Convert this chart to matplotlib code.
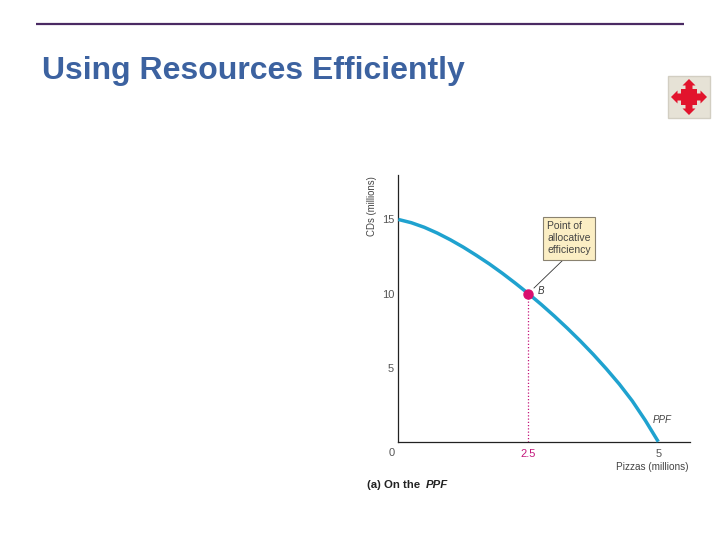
import matplotlib
matplotlib.use("Agg")
import matplotlib.pyplot as plt
from matplotlib.patches import Rectangle, Polygon

# Data
pizzas = [0, 0.25, 0.5, 0.75, 1, 1.25, 1.5, 1.75, 2, 2.25, 2.5, 2.75, 3, 3.25, 3.5, 3.75, 4, 4.25, 4.5, 4.75, 5]
cds = [15, 14.78, 14.47, 14.08, 13.63, 13.13, 12.58, 12.0, 11.37, 10.7, 10, 9.26, 8.48, 7.66, 6.8, 5.89, 4.92, 3.89, 2.75, 1.44, 0]
point_x = 2.5
point_y = 10
x_ticks = [2.5, 5]
x_tick_labels = ["2.5", "5"]
y_ticks = [5, 10, 15]
title = "Using Resources Efficiently"

W, H = 720, 540
plt.rcParams['font.family'] = ['Liberation Sans', 'DejaVu Sans']
fig = plt.figure(figsize=(W / 100, H / 100), dpi=100, facecolor="white")

# page overlay in pixel coordinates
page = fig.add_axes([0, 0, 1, 1])
page.set_xlim(0, W)
page.set_ylim(H, 0)
page.axis("off")
page.plot([36, 684], [24, 24], color="#4a2a63", lw=1.6, solid_capstyle="butt")
page.text(42, 79, title, color="#3c62a0", fontsize=23.0, fontweight="bold", ha="left", va="baseline")
page.text(367, 488, "(a) On the", color="#222222", fontsize=8.2, fontweight="bold", ha="left", va="baseline")
page.text(426, 488, "PPF", color="#222222", fontsize=8.2, fontweight="bold", fontstyle="italic", ha="left", va="baseline")

# move icon
page.add_patch(Rectangle((668, 76), 42, 42, facecolor="#e6e2d6", edgecolor="#d2cec2", lw=1))
cx, cy = 689, 97
red = "#e2142d"
page.add_patch(Rectangle((cx - 8, cy - 8), 16, 16, facecolor=red, edgecolor="none"))
for dx, dy in [(1, 0), (-1, 0), (0, 1), (0, -1)]:
    px, py = -dy, dx
    pts = [
        (cx + dx * 6 + px * 3.5, cy + dy * 6 + py * 3.5),
        (cx + dx * 11.5 + px * 3.5, cy + dy * 11.5 + py * 3.5),
        (cx + dx * 11.5 + px * 6.5, cy + dy * 11.5 + py * 6.5),
        (cx + dx * 18, cy + dy * 18),
        (cx + dx * 11.5 - px * 6.5, cy + dy * 11.5 - py * 6.5),
        (cx + dx * 11.5 - px * 3.5, cy + dy * 11.5 - py * 3.5),
        (cx + dx * 6 - px * 3.5, cy + dy * 6 - py * 3.5),
    ]
    page.add_patch(Polygon(pts, closed=True, facecolor=red, edgecolor="none"))

# chart
left, right, top, bottom = 398.3, 690, 175, 441.7
ax = fig.add_axes([left / W, 1 - bottom / H, (right - left) / W, (bottom - top) / H])
ax.patch.set_alpha(0)
ax.set_xlim(0, 5.61)
ax.set_ylim(0, 18.0)
for s in ("top", "right"):
    ax.spines[s].set_visible(False)
for s in ("left", "bottom"):
    ax.spines[s].set_linewidth(0.9)
    ax.spines[s].set_color("#222222")

ax.plot(pizzas, cds, color="#1fa2cf", lw=2.5, solid_capstyle="butt", clip_on=False, zorder=3)
ax.plot([point_x, point_x], [0, point_y], color="#c4187c", lw=0.9, ls=(0, (1, 1.6)), zorder=2)
ax.plot([point_x], [point_y], "o", color="#d90f6e", ms=6.5, zorder=4)

ax.set_xticks(x_ticks)
ax.set_xticklabels(x_tick_labels, fontsize=8, color="#555555")
ax.get_xticklabels()[0].set_color("#c4187c")
ax.set_yticks(y_ticks)
ax.set_yticklabels([str(v) for v in y_ticks], fontsize=8, color="#555555")
ax.tick_params(axis="x", length=0, pad=5)
ax.tick_params(axis="y", length=0, pad=3)
page.text(392, 452.5, "0", fontsize=8, color="#555555", ha="center", va="center")

# callout
page.plot([563, 534], [260, 288], color="#333333", lw=0.6, zorder=5)
page.add_patch(Rectangle((543, 217), 52, 43, facecolor="#fbeec4", edgecolor="#8a8270", lw=0.8, zorder=5))
page.text(547, 238, "Point of\nallocative\nefficiency", fontsize=7.5, color="#444444",
          ha="left", va="center", linespacing=1.25, zorder=6)
ax.text(2.74, 10.2, "B", fontsize=7, fontstyle="italic", color="#333333", ha="center", va="center")
ax.text(5.07, 1.45, "PPF", fontsize=7, fontstyle="italic", color="#444444", ha="center", va="center", clip_on=False)

page.text(688, 470, "Pizzas (millions)", fontsize=7.2, color="#444444", ha="right", va="baseline")
page.text(372, 206, "CDs (millions)", fontsize=6.9, color="#444444", rotation=90, ha="center", va="center")
fig.savefig("out.png", dpi=100)
